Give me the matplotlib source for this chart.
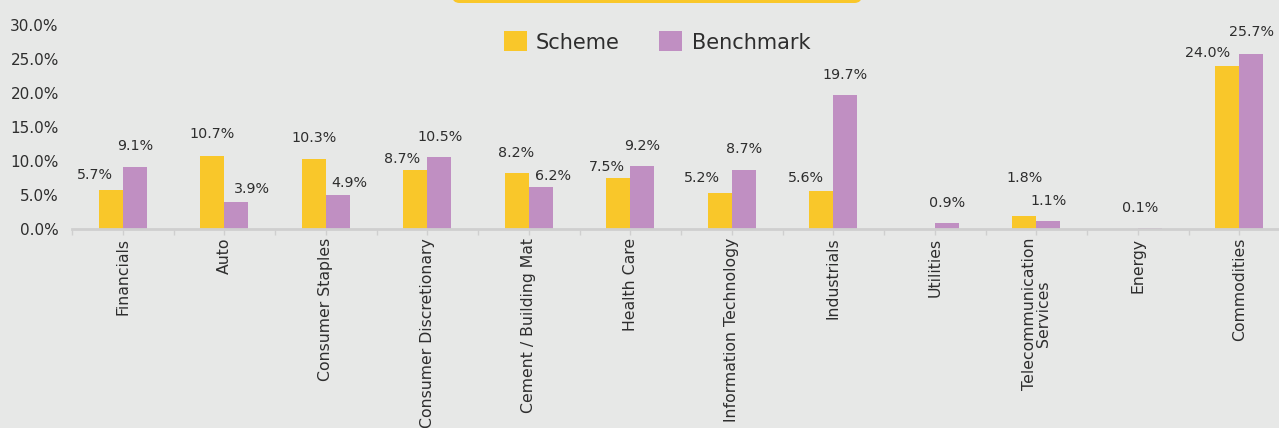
import matplotlib
matplotlib.use("Agg")
import matplotlib.pyplot as plt
from matplotlib.patches import FancyBboxPatch
import numpy as np

# ---- data ----
categories = ["Financials", "Auto", "Consumer Staples", "Consumer Discretionary",
              "Cement / Building Mat", "Health Care", "Information Technology",
              "Industrials", "Utilities", "Telecommunication\nServices", "Energy",
              "Commodities"]
scheme = [5.7, 10.7, 10.3, 8.7, 8.2, 7.5, 5.2, 5.6, 0.0, 1.8, 0.0, 24.0]
benchmark = [9.1, 3.9, 4.9, 10.5, 6.2, 9.2, 8.7, 19.7, 0.9, 1.1, 0.1, 25.7]
yticks = [0, 5, 10, 15, 20, 25, 30]

# ---- style ----
BG = "#e7e8e7"
YELLOW = "#f9c72a"
PURPLE = "#c08fc2"
TEXT = "#2e2e2e"
AXIS = "#cfcfcf"
# label offsets (dx, dy) in pixels relative to bar-top centre
scheme_off = [(-16, 15), (0, 22), (0, 21), (-13, 11), (-1, 20), (-11.5, 11),
              (-18, 15), (-15, 13), (0, 20), (0, 38), (0, 20), (-20, 13)]
bench_off = [(0, 21), (16, 13), (12, 12), (1, 20), (12, 11), (0, 20),
             (0, 21), (0, 20), (0, 20), (0, 20), (-10, 20), (0, 22)]

W, H, DPI = 1279, 428, 100
fig = plt.figure(figsize=(W / DPI, H / DPI), dpi=DPI, facecolor=BG)
ax = fig.add_axes([72 / W, 1 - 228.7 / H, (1290 - 72) / W, (228.7 - 25) / H])
ax.set_facecolor(BG)

x = np.arange(len(categories))
bw = 0.237
b1 = ax.bar(x - bw / 2, scheme, bw, color=YELLOW, label="Scheme", zorder=3)
b2 = ax.bar(x + bw / 2, benchmark, bw, color=PURPLE, label="Benchmark", zorder=3)

px = 72 / DPI
for xi, v, (dx, dy) in zip(x - bw / 2, scheme, scheme_off):
    if v > 0:
        ax.annotate(f"{v:.1f}%", (xi, v), xytext=(dx * px, dy * px),
                    textcoords="offset points", ha="center", va="center",
                    fontsize=10.3, color=TEXT)
for xi, v, (dx, dy) in zip(x + bw / 2, benchmark, bench_off):
    if v > 0:
        ax.annotate(f"{v:.1f}%", (xi, v), xytext=(dx * px, dy * px),
                    textcoords="offset points", ha="center", va="center",
                    fontsize=10.3, color=TEXT)

ax.set_xlim(-0.5, len(categories) - 0.5)
ax.set_ylim(0, 30)
ax.set_yticks(yticks)
ax.set_yticklabels([f"{t:.1f}%" for t in yticks], fontsize=11, color=TEXT)
ax.tick_params(axis="y", length=0, pad=9.5)

ax.set_xticks(x)
ax.set_xticklabels(categories, rotation=90, fontsize=11.3, color=TEXT,
                   va="top", ha="center", multialignment="center",
                   linespacing=0.95)
ax.set_xticks(np.arange(len(categories) + 1) - 0.5, minor=True)
ax.tick_params(axis="x", which="both", length=4, width=1, color=AXIS, pad=2.5)

for s in ["top", "right", "left"]:
    ax.spines[s].set_visible(False)
ax.spines["bottom"].set_color(AXIS)
ax.spines["bottom"].set_linewidth(2)
ax.spines["bottom"].set_zorder(4)

fig.legend(handles=[b1, b2], loc="center",
           bbox_to_anchor=(657 / W, 1 - 42 / H), ncol=2, frameon=False,
           fontsize=15, handlelength=1.1, handleheight=1.1,
           handletextpad=0.45, columnspacing=1.9, borderpad=0,
           labelcolor=TEXT, prop={"size": 15, "weight": "medium"})

# partial yellow header box at top
box = FancyBboxPatch((452 / W, 1 - 3 / H), (862 - 452) / W, 30 / H,
                     boxstyle="round,pad=0,rounding_size=0.006",
                     transform=fig.transFigure, facecolor=YELLOW,
                     edgecolor="none", mutation_aspect=W / H)
fig.patches.append(box)

fig.savefig("out.png", dpi=DPI, facecolor=BG)
